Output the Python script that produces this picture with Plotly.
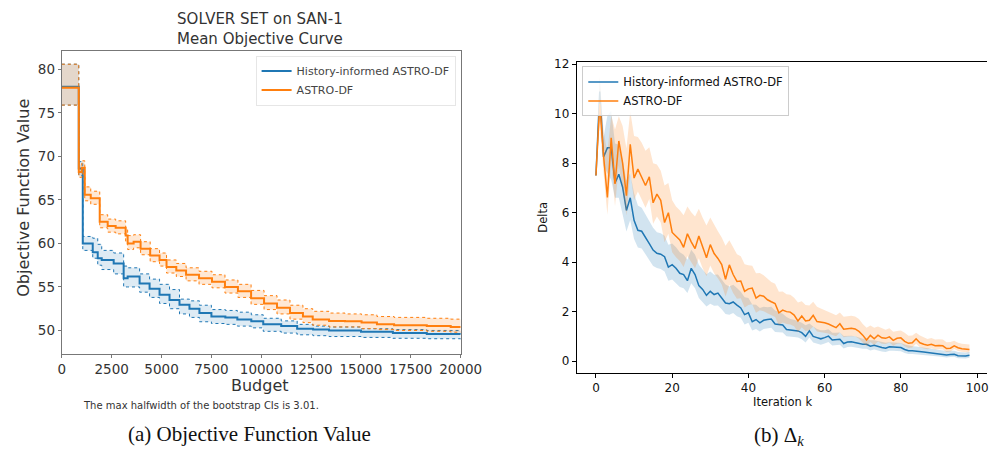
import plotly.graph_objects as go

# ---------------- Left panel: mean objective curve (step) ----------------
budget_hist = [0, 850, 1050, 1550, 1800, 2000, 2600, 3100, 3300, 3900, 4400, 4900, 5400, 5900,
               6400, 6900, 7500, 8200, 8800, 9500, 10100, 11000, 11800, 12600, 13400, 15000,
               16600, 18300, 20000]
obj_hist = [78.0, 68.6, 60.0, 59.0, 58.3, 58.1, 57.7, 56.0, 56.2, 55.4, 54.8, 54.1, 53.5, 52.95,
            52.5, 52.0, 51.6, 51.5, 51.25, 51.05, 50.7, 50.5, 50.2, 50.1, 50.0, 49.85, 49.7,
            49.6, 49.55]
obj_hist_hi = [80.6, 69.4, 60.8, 60.6, 59.9, 59.2, 58.9, 57.4, 57.2, 56.5, 55.9, 55.3, 54.7, 53.6,
               53.4, 52.9, 52.4, 52.3, 52.1, 51.8, 51.4, 51.1, 50.7, 50.5, 50.4, 50.2, 50.1,
               50.0, 49.95]
obj_hist_lo = [75.9, 67.8, 59.2, 58.3, 57.5, 57.0, 56.5, 55.0, 55.0, 54.4, 53.8, 53.1, 52.5, 51.9,
               51.5, 51.0, 50.8, 50.7, 50.5, 50.3, 49.9, 49.7, 49.5, 49.4, 49.3, 49.2, 49.1,
               49.05, 49.0]

budget_astro = [0, 850, 1000, 1150, 1450, 1900, 2300, 2700, 3200, 3300, 3600, 3950, 4430, 4900,
                5250, 5740, 6230, 6880, 7530, 8180, 8830, 9490, 10140, 10790, 11440, 12090,
                12580, 13400, 14200, 15030, 15800, 16660, 18300, 19500, 20000]
obj_astro = [77.9, 68.2, 68.7, 65.6, 65.2, 62.5, 62.0, 61.8, 60.9, 60.0, 60.2, 59.4, 58.6, 58.1,
             57.3, 56.9, 56.4, 56.0, 55.6, 55.0, 54.5, 53.7, 53.1, 52.6, 52.0, 51.6, 51.25,
             51.1, 51.05, 50.9, 50.7, 50.6, 50.5, 50.4, 50.4]
obj_astro_hi = [80.6, 69.0, 69.5, 66.5, 66.0, 63.3, 62.8, 62.6, 61.7, 60.9, 61.0, 60.2, 59.4, 58.9,
                58.1, 57.7, 57.2, 56.8, 56.4, 55.8, 55.3, 54.6, 54.0, 53.5, 52.9, 52.5, 52.2,
                52.0, 51.9, 51.8, 51.6, 51.5, 51.4, 51.3, 51.3]
obj_astro_lo = [75.9, 67.6, 68.0, 64.9, 64.5, 61.8, 61.3, 61.1, 60.2, 59.3, 59.5, 58.7, 57.9, 57.4,
                56.6, 56.2, 55.7, 55.3, 54.9, 54.3, 53.8, 53.0, 52.4, 51.9, 51.3, 50.9, 50.6,
                50.4, 50.4, 50.2, 50.1, 50.0, 49.9, 49.8, 49.8]

left_xticks = [0, 2500, 5000, 7500, 10000, 12500, 15000, 17500, 20000]
left_yticks = [50, 55, 60, 65, 70, 75, 80]

# ---------------- Right panel: Delta_k per iteration ----------------
iteration = list(range(99))
delta_hist = [7.5, 10.9, 8.25, 8.62, 8.62, 7.2, 7.55, 7.03, 6.09, 6.6,
              5.69, 5.29, 5.25, 5.02, 4.75, 4.49, 4.36, 4.32, 4.22, 3.8,
              3.9, 3.75, 3.55, 3.5, 3.25, 3.75, 3.5, 3.05, 2.9, 2.66,
              2.82, 2.69, 2.75, 2.55, 2.35, 2.32, 2.39, 2.26, 2.15, 1.88,
              1.95, 1.59, 1.68, 1.55, 1.65, 1.68, 1.7, 1.5, 1.48, 1.46,
              1.28, 1.25, 1.25, 1.22, 1.15, 1.0, 1.22, 1.0, 0.95, 0.9,
              0.95, 1.01, 0.85, 0.85, 0.88, 0.71, 0.77, 0.78, 0.75, 0.7,
              0.68, 0.68, 0.6, 0.64, 0.58, 0.55, 0.52, 0.58, 0.57, 0.57,
              0.55, 0.47, 0.42, 0.42, 0.41, 0.4, 0.37, 0.35, 0.33, 0.31,
              0.3, 0.28, 0.25, 0.27, 0.28, 0.22, 0.21, 0.21, 0.24]
delta_astro = [7.5, 10.4, 8.3, 6.62, 9.03, 7.16, 8.9, 8.0, 6.69, 8.76,
               7.4, 7.76, 7.43, 7.1, 7.45, 6.4, 6.75, 6.5, 5.6, 6.0,
               5.2, 5.05, 4.9, 4.6, 5.15, 4.82, 4.55, 5.06, 4.6, 4.18,
               4.71, 4.35, 4.15, 3.9, 3.31, 3.89, 3.5, 3.22, 3.24, 2.82,
               2.92, 2.95, 2.55, 2.66, 2.62, 2.48, 2.4, 2.33, 1.95, 2.06,
               2.0, 1.98, 1.86, 1.62, 1.82, 1.62, 1.65, 1.85, 1.6, 1.58,
               1.55, 1.5, 1.42, 1.35, 1.51, 1.29, 1.31, 1.33, 1.3, 1.2,
               1.05, 0.85, 1.04, 0.9, 1.05, 0.94, 0.92, 0.98, 0.84, 0.92,
               0.94, 0.8, 0.72, 0.74, 0.9, 0.74, 0.68, 0.64, 0.68, 0.62,
               0.63, 0.62, 0.51, 0.52, 0.62, 0.54, 0.5, 0.48, 0.47]
# distances from the mean to the upper / lower edge of the shaded band
hist_band_up = [0.05, 0.6, 0.8, 1.3, 1.5, 1.6, 1.2, 1.1, 1.2, 1.0,
                1.1, 1.0, 0.95, 0.9, 0.9, 0.9, 0.85, 0.85, 0.85, 0.9,
                0.85, 0.85, 0.85, 0.8, 0.85, 0.75, 0.8, 0.85, 0.8, 0.85,
                0.8, 0.8, 0.75, 0.75, 0.75, 0.7, 0.7, 0.7, 0.65, 0.7,
                0.6, 0.7, 0.6, 0.6, 0.55, 0.5, 0.5, 0.55, 0.5, 0.45,
                0.5, 0.45, 0.42, 0.4, 0.4, 0.45, 0.3, 0.4, 0.35, 0.35,
                0.3, 0.28, 0.3, 0.3, 0.28, 0.3, 0.25, 0.25, 0.25, 0.24,
                0.22, 0.22, 0.24, 0.2, 0.22, 0.22, 0.22, 0.18, 0.18, 0.18,
                0.18, 0.2, 0.2, 0.18, 0.18, 0.17, 0.17, 0.16, 0.16, 0.16,
                0.15, 0.15, 0.16, 0.15, 0.14, 0.15, 0.14, 0.14, 0.13]
hist_band_dn = [0.05, 0.9, 0.35, 1.0, 1.3, 0.6, 0.95, 1.1, 0.85, 0.9,
                0.75, 0.7, 0.7, 0.7, 0.65, 0.65, 0.6, 0.6, 0.6, 0.55,
                0.6, 0.6, 0.55, 0.55, 0.5, 0.6, 0.55, 0.5, 0.5, 0.45,
                0.5, 0.45, 0.5, 0.45, 0.45, 0.45, 0.45, 0.45, 0.4, 0.4,
                0.4, 0.35, 0.38, 0.35, 0.35, 0.35, 0.35, 0.32, 0.3, 0.3,
                0.28, 0.28, 0.28, 0.27, 0.27, 0.25, 0.27, 0.25, 0.25, 0.24,
                0.24, 0.24, 0.22, 0.22, 0.22, 0.2, 0.2, 0.2, 0.2, 0.19,
                0.18, 0.18, 0.17, 0.17, 0.16, 0.16, 0.15, 0.16, 0.15, 0.15,
                0.15, 0.14, 0.13, 0.13, 0.13, 0.13, 0.12, 0.12, 0.12, 0.11,
                0.11, 0.11, 0.1, 0.1, 0.1, 0.1, 0.1, 0.1, 0.1]
astro_band_up = [0.05, 1.1, 1.0, 1.8, 0.9, 2.2, 1.0, 1.5, 1.9, 1.35,
                 1.7, 1.3, 1.4, 1.4, 1.2, 1.6, 1.2, 1.2, 1.5, 1.2,
                 1.3, 1.2, 1.2, 1.3, 1.1, 1.2, 1.3, 1.1, 1.2, 1.3,
                 1.1, 1.15, 1.1, 1.1, 1.35, 1.0, 1.1, 1.1, 1.0, 1.1,
                 0.95, 0.9, 1.0, 0.9, 0.85, 0.85, 0.8, 0.8, 0.85, 0.75,
                 0.7, 0.7, 0.7, 0.75, 0.6, 0.65, 0.6, 0.55, 0.6, 0.55,
                 0.5, 0.5, 0.5, 0.5, 0.45, 0.5, 0.5, 0.5, 0.5, 0.5,
                 0.45, 0.5, 0.4, 0.45, 0.35, 0.4, 0.35, 0.35, 0.35, 0.3,
                 0.3, 0.35, 0.3, 0.3, 0.25, 0.3, 0.3, 0.25, 0.25, 0.25,
                 0.25, 0.25, 0.25, 0.25, 0.2, 0.2, 0.2, 0.2, 0.2]
astro_band_dn = [0.05, 0.9, 0.7, 0.7, 1.0, 0.9, 1.0, 1.0, 0.8, 1.1,
                 0.9, 0.9, 0.9, 0.9, 0.9, 0.85, 0.9, 0.9, 0.8, 0.85,
                 0.8, 0.85, 0.85, 0.8, 0.9, 0.85, 0.8, 0.9, 0.85, 0.75,
                 0.85, 0.8, 0.8, 0.8, 0.7, 0.8, 0.75, 0.7, 0.7, 0.65,
                 0.65, 0.65, 0.6, 0.6, 0.6, 0.55, 0.55, 0.55, 0.5, 0.5,
                 0.5, 0.5, 0.45, 0.45, 0.45, 0.4, 0.4, 0.45, 0.4, 0.4,
                 0.4, 0.38, 0.36, 0.35, 0.35, 0.33, 0.32, 0.32, 0.3, 0.3,
                 0.28, 0.25, 0.27, 0.25, 0.26, 0.24, 0.23, 0.23, 0.22, 0.22,
                 0.22, 0.2, 0.19, 0.19, 0.2, 0.18, 0.17, 0.16, 0.16, 0.15,
                 0.15, 0.15, 0.14, 0.13, 0.13, 0.13, 0.12, 0.12, 0.12]

right_xticks = [0, 20, 40, 60, 80, 100]
right_yticks = [0, 2, 4, 6, 8, 10, 12]

series_names = ["History-informed ASTRO-DF", "ASTRO-DF"]
BLUE = "#1f77b4"
ORANGE = "#ff7f0e"

W, H = 1008, 455


def px(x):
    return x / W


def py(y):
    return 1 - y / H


fig = go.Figure()

# ---- left panel traces ----
for bx, mean, lo, hi, col, fillc, name in [
    (budget_hist, obj_hist, obj_hist_lo, obj_hist_hi, BLUE, "rgba(31,119,180,0.15)", series_names[0]),
    (budget_astro, obj_astro, obj_astro_lo, obj_astro_hi, ORANGE, "rgba(255,127,14,0.18)", series_names[1]),
]:
    fig.add_trace(go.Scatter(x=bx, y=lo, mode="lines", line=dict(color=col, width=1, dash="dot", shape="hv"),
                             opacity=0.6, showlegend=False, hoverinfo="skip", xaxis="x", yaxis="y"))
    fig.add_trace(go.Scatter(x=bx, y=hi, mode="lines", line=dict(color=col, width=1, dash="dot", shape="hv"),
                             fill="tonexty", fillcolor=fillc, opacity=0.6, showlegend=False,
                             hoverinfo="skip", xaxis="x", yaxis="y"))
    fig.add_trace(go.Scatter(x=bx, y=mean, mode="lines", line=dict(color=col, width=2, shape="hv"),
                             name=name, legend="legend", xaxis="x", yaxis="y"))

# ---- right panel traces ----
for mean, up, dn, col, fillc, name in [
    (delta_hist, hist_band_up, hist_band_dn, BLUE, "rgba(31,119,180,0.2)", series_names[0]),
    (delta_astro, astro_band_up, astro_band_dn, ORANGE, "rgba(255,127,14,0.2)", series_names[1]),
]:
    lower = [m - d for m, d in zip(mean, dn)]
    upper = [m + u for m, u in zip(mean, up)]
    fig.add_trace(go.Scatter(x=iteration, y=lower, mode="lines", line=dict(width=0, color=fillc),
                             showlegend=False, hoverinfo="skip", xaxis="x2", yaxis="y2"))
    fig.add_trace(go.Scatter(x=iteration, y=upper, mode="lines", line=dict(width=0, color=fillc),
                             fill="tonexty", fillcolor=fillc, showlegend=False, hoverinfo="skip",
                             xaxis="x2", yaxis="y2"))
    fig.add_trace(go.Scatter(x=iteration, y=mean, mode="lines", line=dict(color=col, width=1.5),
                             name=name, legend="legend2", xaxis="x2", yaxis="y2"))

FONT = "DejaVu Sans"

fig.update_layout(
    width=W, height=H, autosize=False,
    margin=dict(l=0, r=0, t=0, b=0, pad=0),
    paper_bgcolor="white", plot_bgcolor="white",
    font=dict(family=FONT, color="#222"),
    xaxis=dict(domain=[px(59.3), px(468.3)], range=[0, 20000], tickvals=left_xticks,
               ticktext=[str(v) for v in left_xticks], showgrid=False, zeroline=False,
               showline=True, linecolor="#777", linewidth=1.2, mirror=True,
               ticks="outside", ticklen=3, tickcolor="#777",
               tickfont=dict(size=13.5, color="#333", family=FONT), anchor="y"),
    yaxis=dict(domain=[py(352.7), py(47.3)], range=[47.34, 82.13], tickvals=left_yticks,
               showgrid=False, zeroline=False, showline=True, linecolor="#777", linewidth=1.2,
               mirror=True, ticks="outside", ticklen=3, tickcolor="#777",
               tickfont=dict(size=13.5, color="#333", family=FONT), anchor="x"),
    xaxis2=dict(domain=[px(587.3), 1.0], range=[-5.04, 102.6], tickvals=right_xticks,
                showgrid=False, zeroline=False, showline=True, linecolor="black", linewidth=1,
                mirror=True, ticks="outside", ticklen=4, tickcolor="black",
                ticklabeloverflow="allow",
                tickfont=dict(size=12, color="#111", family=FONT), anchor="y2"),
    yaxis2=dict(domain=[py(372), py(58.3)], range=[-0.47, 12.1], tickvals=right_yticks,
                showgrid=False, zeroline=False, showline=True, linecolor="black", linewidth=1,
                mirror=False, ticks="outside", ticklen=4, tickcolor="black",
                tickfont=dict(size=12, color="#111", family=FONT), anchor="x2"),
    legend=dict(x=px(258), y=py(52), xanchor="left", yanchor="top", traceorder="normal",
                bgcolor="rgba(255,255,255,0.85)", bordercolor="#e6e6e6", borderwidth=1,
                font=dict(size=11, color="#444", family=FONT), itemwidth=30, tracegroupgap=0),
    legend2=dict(x=px(593), y=py(63), xanchor="left", yanchor="top", traceorder="normal",
                 bgcolor="rgba(255,255,255,0.8)", bordercolor="#cccccc", borderwidth=1,
                 font=dict(size=11.5, color="#111", family=FONT), itemwidth=30, tracegroupgap=0),
)

ann = [
    dict(text="SOLVER SET on SAN-1<br>Mean Objective Curve", x=px(263), y=py(25),
         font=dict(size=15, color="#333", family=FONT)),
    dict(text="Objective Function Value", x=px(20), y=py(196), textangle=-90,
         font=dict(size=16, color="#333", family=FONT)),
    dict(text="Budget", x=px(263), y=py(385), font=dict(size=16, color="#333", family=FONT)),
    dict(text="The max halfwidth of the bootstrap CIs is 3.01.", x=px(79), y=py(405), xanchor="left",
         font=dict(size=10, color="#333", family=FONT)),
    dict(text="Iteration k", x=px(798.7), y=py(401.7), font=dict(size=11.5, color="#111", family=FONT)),
    dict(text="Delta", x=px(553.3), y=py(215), textangle=-90, font=dict(size=11.5, color="#111", family=FONT)),
    dict(text="(a) Objective Function Value", x=px(252), y=py(434),
         font=dict(size=21, color="#111", family="Liberation Serif")),
    dict(text="(b) Δ<sub><i>k</i></sub>", x=px(795), y=py(436),
         font=dict(size=21, color="#111", family="Liberation Serif")),
]
for a in ann:
    a.setdefault("xanchor", "center")
    a.setdefault("yanchor", "middle")
    fig.add_annotation(xref="paper", yref="paper", showarrow=False, **a)

fig.write_html(
    "out.html",
    config={"displayModeBar": False},
    post_script=(
        "var h=document.documentElement,b=document.body;"
        "h.style.margin='0';h.style.padding='0';h.style.overflow='hidden';"
        "b.style.margin='0';b.style.padding='0';b.style.overflow='hidden';"
    ),
)
